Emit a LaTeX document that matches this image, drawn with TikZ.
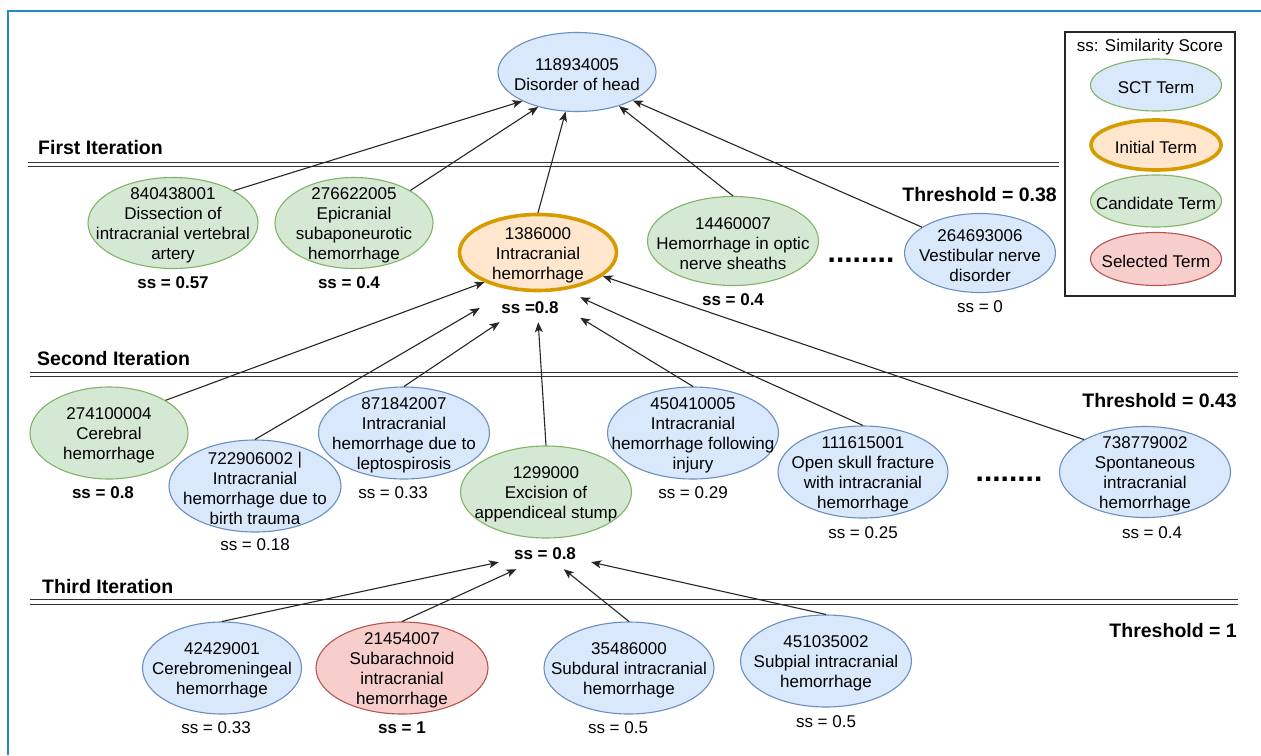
\documentclass[tikz,border=0pt]{standalone}
\usepackage{fontspec}
\setmainfont{Liberation Sans}
\usetikzlibrary{arrows.meta,shapes.geometric}
\definecolor{sctfill}{HTML}{DAE8FC}
\definecolor{sctline}{HTML}{6C8EBF}
\definecolor{candfill}{HTML}{D5E8D4}
\definecolor{candline}{HTML}{82B366}
\definecolor{initfill}{HTML}{FFE6CC}
\definecolor{initline}{HTML}{D79B00}
\definecolor{selfill}{HTML}{F8CECC}
\definecolor{selline}{HTML}{B85450}
\definecolor{framecol}{HTML}{2589C8}
\tikzset{
  term/.style={ellipse, inner sep=0pt, line width=1.1pt},
  sctterm/.style={term, draw=sctline, fill=sctfill},
  candterm/.style={term, draw=candline, fill=candfill},
  initterm/.style={term, draw=initline, fill=initfill, line width=3.6pt},
  selterm/.style={term, draw=selline, fill=selfill},
  txt/.style={align=center, inner sep=0pt, yshift=-2.5pt},
  tx/.style={label={[txt]center:{#1}}},
  score/.style={inner sep=0pt},
  bscore/.style={score, font=\fontsize{17}{20}\selectfont\bfseries},
  iter/.style={anchor=west, inner sep=0pt, font=\fontsize{19.5}{22}\selectfont\bfseries},
  thr/.style={anchor=east, inner sep=0pt, font=\fontsize{19.5}{22}\selectfont\bfseries},
  sepline/.style={draw=black!80, line width=1.2pt, double=white, double distance=3.4pt},
  arr/.style={-{Stealth[length=10pt,width=8pt,inset=2.5pt]}, line width=1.1pt, black!85},
  dots/.style={inner sep=0pt, font=\fontsize{30}{30}\selectfont\bfseries},
  legbox/.style={draw=black!85, line width=1.5pt, inner sep=0pt},
}
\begin{document}
\begin{tikzpicture}[x=1pt, y=-1pt, font=\fontsize{17}{20}\selectfont]
  \path[use as bounding box, fill=white] (0,0) rectangle (1261,755);
  \draw[framecol, line width=2.2pt] (8,755) -- (8,11) -- (1261,11);

  % iteration bands
  \draw[sepline] (28,164.5) -- (1059,164.5);
  \draw[sepline] (30,374.5) -- (1238,374.5);
  \draw[sepline] (30,602) -- (1238,602);
  \node[iter] at (38,148) {First Iteration};
  \node[iter] at (37,359) {Second Iteration};
  \node[iter] at (42,587) {Third Iteration};
  \node[thr] at (1057,195) {Threshold = 0.38};
  \node[thr] at (1237,401) {Threshold = 0.43};
  \node[thr] at (1237,631) {Threshold = 1};

  % root
  \node[sctterm, tx={118934005\\Disorder of head}, minimum width=158pt, minimum height=79pt] (head) at (577,72) {};

  % first iteration
  \node[candterm, tx={840438001\\Dissection of\\intracranial vertebral\\artery}, minimum width=170pt, minimum height=91pt] (dissect) at (173,223) {};
  \node[candterm, tx={276622005\\Epicranial\\subaponeurotic\\hemorrhage}, minimum width=158pt, minimum height=91pt] (epicran) at (354,223) {};
  \node[initterm, tx={1386000\\Intracranial\\hemorrhage}, minimum width=157pt, minimum height=76pt] (init) at (538,252.5) {};
  \node[candterm, tx={14460007\\Hemorrhage in optic\\nerve sheaths}, minimum width=171pt, minimum height=89pt] (optic) at (733,241) {};
  \node[sctterm, tx={264693006\\Vestibular nerve\\disorder}, minimum width=151pt, minimum height=79pt] (vestib) at (980,253) {};
  \node[dots] (dotsa) at (861,260) {........};
  \node[bscore] (ssdissect) at (173,283) {ss = 0.57};
  \node[bscore] (ssepicran) at (349,283) {ss = 0.4};
  \node[bscore, minimum width=100pt, minimum height=28pt] (ssinit) at (530,308) {ss =0.8};
  \node[bscore] (ssoptic) at (733,300) {ss = 0.4};
  \node[score] (ssvestib) at (980,307) {ss = 0};

  % second iteration
  \node[candterm, tx={274100004\\Cerebral\\hemorrhage}, minimum width=158pt, minimum height=92pt] (cerebral) at (109,433) {};
  \node[sctterm, tx={722906002 |\\Intracranial\\hemorrhage due to\\birth trauma}, minimum width=172pt, minimum height=92pt] (birth) at (255,486) {};
  \node[sctterm, tx={871842007\\Intracranial\\hemorrhage due to\\leptospirosis}, minimum width=171pt, minimum height=92pt] (lepto) at (404,433) {};
  \node[candterm, tx={1299000\\Excision of\\appendiceal stump}, minimum width=171pt, minimum height=92pt] (excis) at (546,492) {};
  \node[sctterm, tx={450410005\\Intracranial\\hemorrhage following\\injury}, minimum width=171pt, minimum height=92pt] (injury) at (693,433) {};
  \node[sctterm, tx={111615001\\Open skull fracture\\with intracranial\\hemorrhage}, minimum width=170pt, minimum height=92pt] (skull) at (863,472) {};
  \node[sctterm, tx={738779002\\Spontaneous\\intracranial\\hemorrhage}, minimum width=171pt, minimum height=91pt] (spont) at (1145,472) {};
  \node[dots] (dotsb) at (1009,479) {........};
  \node[bscore] (sscerebral) at (103,493) {ss = 0.8};
  \node[score] (ssbirth) at (255,545) {ss = 0.18};
  \node[score] (sslepto) at (393,493) {ss = 0.33};
  \node[bscore, minimum width=92pt, minimum height=30pt] (ssexcis) at (545,554) {ss = 0.8};
  \node[score] (ssinjury) at (693,493) {ss = 0.29};
  \node[score] (ssskull) at (863,533) {ss = 0.25};
  \node[score] (ssspont) at (1152,533) {ss = 0.4};

  % third iteration
  \node[sctterm, tx={42429001\\Cerebromeningeal\\hemorrhage}, minimum width=159pt, minimum height=92pt] (meningeal) at (222,668) {};
  \node[selterm, tx={21454007\\Subarachnoid\\intracranial\\hemorrhage}, minimum width=172pt, minimum height=92pt] (subarach) at (402,668) {};
  \node[sctterm, tx={35486000\\Subdural intracranial\\hemorrhage}, minimum width=170pt, minimum height=92pt] (subdural) at (629,668) {};
  \node[sctterm, tx={451035002\\Subpial intracranial\\hemorrhage}, minimum width=171pt, minimum height=92pt] (subpial) at (826,661) {};
  \node[score] (ssmeningeal) at (216,728) {ss = 0.33};
  \node[bscore] (sssubarach) at (402,728) {ss = 1};
  \node[score] (sssubdural) at (618,728) {ss = 0.5};
  \node[score] (sssubpial) at (826,722) {ss = 0.5};

  % legend
  \node[legbox, minimum width=170pt, minimum height=264pt] (legend) at (1150,164) {};
  \node[score] (legtitle) at (1150,47) {ss: Similarity Score};
  \node[term, draw=candline, fill=sctfill, tx={SCT Term}, minimum width=131pt, minimum height=52pt] (legsct) at (1156,85) {};
  \node[initterm, tx={Initial Term}, minimum width=130pt, minimum height=50pt] (leginit) at (1156,145) {};
  \node[candterm, tx={Candidate Term}, minimum width=131pt, minimum height=52pt] (legcand) at (1156,201) {};
  \node[selterm, tx={Selected Term}, minimum width=131pt, minimum height=53pt] (legsel) at (1156,259) {};

  % parent links
  \draw[arr] (dissect.28) -- (head.208);
  \draw[arr] (epicran.30) -- (head.222);
  \draw[arr] (init.north) -- (head.254);
  \draw[arr] (optic.north) -- (head.321);
  \draw[arr] (vestib.156) -- (head.333);
  \draw[arr] (cerebral.30) -- (init.209);
  \draw[arr] (birth.north) -- (ssinit.180);
  \draw[arr] (lepto.north) -- (ssinit.205);
  \draw[arr] (excis.north) -- (ssinit.300);
  \draw[arr] (injury.north) -- (ssinit.349);
  \draw[arr] (skull.north) -- (ssinit.12);
  \draw[arr] (spont.152) -- (init.340);
  \draw[arr] (meningeal.north) -- (ssexcis.190);
  \draw[arr] (subarach.north) -- (ssexcis.208);
  \draw[arr] (subdural.north) -- (ssexcis.321);
  \draw[arr] (subpial.north) -- (ssexcis.350);
\end{tikzpicture}
\end{document}
